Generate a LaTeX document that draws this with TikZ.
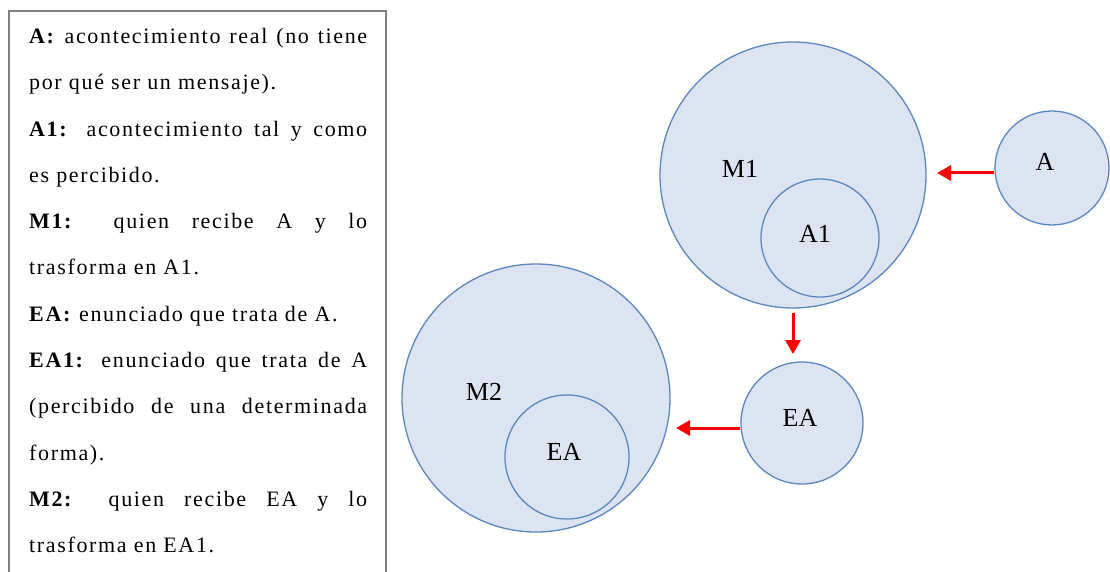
\documentclass[tikz,border=0pt]{standalone}
\usepackage{fontspec}
\setmainfont{Liberation Serif}
\newfontfamily\boxfont[LetterSpace=7.5]{Liberation Serif}
\usetikzlibrary{arrows.meta}
\definecolor{cfill}{HTML}{DBE4F0}
\definecolor{cline}{HTML}{5B87C0}
\definecolor{arrowred}{HTML}{FF0000}
\definecolor{boxgray}{HTML}{7F7F7F}
\tikzset{
  circ/.style={circle, draw=cline, fill=cfill, line width=1.3pt, inner sep=0pt},
  lbl/.style={anchor=base, inner sep=0pt, font=\fontsize{26}{30}\selectfont},
  arr/.style={draw=arrowred, line width=3pt, -{Triangle[length=14pt,width=15pt]}},
  legend/.style={anchor=north west, text width=338pt, align=justify, inner sep=0pt,
    font=\boxfont\fontsize{22}{46.3}\selectfont}
}
\begin{document}
\begin{tikzpicture}[x=1pt,y=-1pt]
\useasboundingbox (0,0) rectangle (1110,572);
\clip (0,0) rectangle (1110,572);
\fill[white] (0,0) rectangle (1110,572);
% legend box
\draw[boxgray, line width=2.5pt] (9,11) rectangle (386,600);
\node[legend] (txt) at (29,28) {\hyphenpenalty=10000\exhyphenpenalty=10000\parindent=0pt
\textbf{A:} acontecimiento real (no tiene\linebreak por qué ser un mensaje).\par
\textbf{A1:} acontecimiento tal y como\linebreak es percibido.\par
\textbf{M1:} quien recibe A y lo\linebreak trasforma en A1.\par
\textbf{EA:} enunciado que trata de A.\par
\textbf{EA1:} enunciado que trata de A\linebreak (percibido de una determinada\linebreak forma).\par
\textbf{M2:} quien recibe EA y lo\linebreak trasforma en EA1.\par};
% circles
\node[circ, minimum size=266pt] (M1) at (793,175) {};
\node[circ, minimum size=118pt] (A1) at (820,238) {};
\node[circ, minimum size=114pt] (A) at (1052,168) {};
\node[circ, minimum size=122pt] (EA) at (802,423) {};
\node[circ, minimum size=268pt] (M2) at (536,398) {};
\node[circ, minimum size=124pt] (EAin) at (567,457) {};
% labels
\node[lbl] (lM1) at (740,178) {M1};
\node[lbl] (lA1) at (815,242) {A1};
\node[lbl] (lA) at (1045,171) {A};
\node[lbl] (lEA) at (800,426) {EA};
\node[lbl] (lM2) at (484,400) {M2};
\node[lbl] (lEAin) at (564,460) {EA};
% arrows
\coordinate (tipM1) at (937,173);
\coordinate (tipEA) at (793,354);
\coordinate (tipM2) at (676,428);
\draw[arr] (A.west |- tipM1) -- (tipM1);
\draw[arr, shorten <=4pt] (M1.south) -- (tipEA);
\draw[arr] (EA.west |- tipM2) -- (tipM2);
\end{tikzpicture}
\end{document}
